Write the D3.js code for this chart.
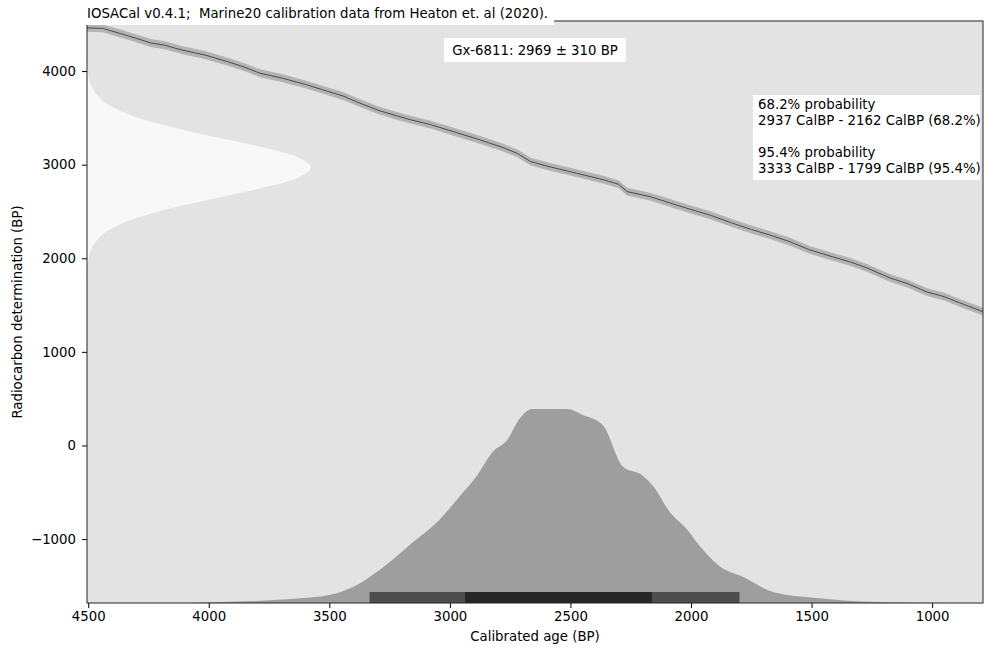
<!DOCTYPE html>
<html>
<head>
<meta charset="utf-8">
<script src="https://cdn.jsdelivr.net/npm/d3@7"></script>
<style>
  body { margin: 0; background: #fff; }
  svg { display: block; font-family: 'DejaVu Sans', sans-serif; }
</style>
</head>
<body>
<script>
const titleText = 'IOSACal v0.4.1;  Marine20 calibration data from Heaton et. al (2020).'
const sampleLabel = 'Gx-6811: 2969 ± 310 BP'
const intervalText = [
  '68.2% probability',
  '2937 CalBP - 2162 CalBP (68.2%)',
  '',
  '95.4% probability',
  '3333 CalBP - 1799 CalBP (95.4%)',
]

const xTicks = [4500, 4000, 3500, 3000, 2500, 2000, 1500, 1000]
const yTicks = [-1000, 0, 1000, 2000, 3000, 4000]

// Marine20 curve: cal BP -> 14C BP
const curveCal = [4505, 4440, 4415, 4360, 4301, 4240, 4187, 4111, 4060, 4016, 3921, 3850, 3788,
  3693, 3600, 3502, 3440, 3388, 3293, 3220, 3160, 3080, 3008, 2874, 2779, 2720, 2665, 2589, 2475,
  2361, 2300, 2265, 2170, 2090, 2018, 1920, 1828, 1750, 1675, 1590, 1508, 1412, 1340, 1271, 1176,
  1100, 1023, 950, 886, 789]
const curve14C = [4462, 4456, 4438, 4396, 4350, 4300, 4279, 4225, 4196, 4172, 4100, 4040, 3977,
  3923, 3858, 3780, 3731, 3673, 3577, 3522, 3478, 3428, 3371, 3264, 3182, 3120, 3033, 2979, 2909,
  2837, 2790, 2712, 2659, 2593, 2535, 2460, 2375, 2308, 2250, 2177, 2090, 2015, 1961, 1898, 1791,
  1727, 1641, 1590, 1524, 1430]
const curveError = 42

// radiocarbon determination (relative density)
const dateBP = [1769, 1869, 1969, 2069, 2169, 2269, 2369, 2469, 2569, 2669, 2769, 2869, 2969,
  3069, 3169, 3269, 3369, 3469, 3569, 3669, 3769, 3869, 3969, 4069, 4169]
const dateDensity = [0.0006, 0.0018, 0.0055, 0.0148, 0.036, 0.078, 0.154, 0.272, 0.435, 0.626, 0.812,
  0.949, 1, 0.949, 0.812, 0.626, 0.435, 0.272, 0.154, 0.078, 0.036, 0.0148, 0.0055, 0.0018, 0.0006]

// calibrated age probability (relative density)
const calAge = [4086, 3953, 3804, 3692, 3621, 3497, 3402, 3290, 3153, 3041, 2958, 2888, 2821, 2763,
  2709, 2680, 2655, 2514, 2448, 2366, 2283, 2200, 2158, 2088, 2017, 1963, 1880, 1785, 1660, 1478, 1221, 942]
const calDensity = [0, 0.005, 0.01, 0.018, 0.024, 0.042, 0.083, 0.172, 0.313, 0.432, 0.552, 0.656,
  0.781, 0.839, 0.953, 0.99, 1, 1, 0.969, 0.917, 0.703, 0.656, 0.604, 0.469, 0.38, 0.292, 0.188, 0.135,
  0.057, 0.026, 0.005, 0]

// highest density ranges
const rangeLabels = ['95.4%', '68.2%']
const rangeFrom = [3333, 2937]
const rangeTo = [1799, 2162]

;(function () {
  const width = 985
  const height = 649
  const left = 87
  const right = 983
  const top = 21
  const bottom = 603
  const fontSize = 13.3

  const svg = d3.select('body').append('svg')
    .attr('width', width)
    .attr('height', height)

  const x = d3.scaleLinear().domain([4505, 789]).range([left, right])
  const y = d3.scaleLinear().domain([-1683, 4535]).range([bottom, top])
  // twin axes used by the density plots
  const xDens = d3.scaleLinear().domain([0, 4]).range([left, right])
  const yDens = d3.scaleLinear().domain([0, 3]).range([bottom, top])

  svg.append('clipPath').attr('id', 'plot-clip')
    .append('rect')
    .attr('x', left).attr('y', top)
    .attr('width', right - left).attr('height', bottom - top)

  svg.append('rect')
    .attr('x', left).attr('y', top)
    .attr('width', right - left).attr('height', bottom - top)
    .attr('fill', '#e3e3e3')

  const plot = svg.append('g').attr('clip-path', 'url(#plot-clip)')

  // radiocarbon date on the y axis
  const dateData = dateBP.map((bp, i) => ({ bp, d: dateDensity[i] }))
  plot.append('path')
    .datum(dateData)
    .attr('fill', '#f8f8f8')
    .attr('d', d3.area()
      .y((p) => y(p.bp))
      .x0(xDens(0))
      .x1((p) => xDens(p.d))
      .curve(d3.curveCatmullRom))

  // calibrated probability
  const calData = calAge.map((age, i) => ({ age, d: calDensity[i] }))
  plot.append('path')
    .datum(calData)
    .attr('fill', '#9e9e9e')
    .attr('d', d3.area()
      .x((p) => x(p.age))
      .y0(yDens(0))
      .y1((p) => yDens(p.d))
      .curve(d3.curveMonotoneX))

  // ranges bars along the bottom
  const barHeight = 11
  plot.selectAll('rect.range')
    .data(rangeLabels)
    .enter()
    .append('rect')
    .attr('class', 'range')
    .attr('x', (d, i) => x(rangeFrom[i]))
    .attr('width', (d, i) => x(rangeTo[i]) - x(rangeFrom[i]))
    .attr('y', bottom - barHeight)
    .attr('height', barHeight)
    .attr('fill', (d, i) => (i === 0 ? '#4d4d4d' : '#262626'))

  // calibration curve
  const curveData = curveCal.map((cal, i) => ({ cal, c14: curve14C[i] }))
  plot.append('path')
    .datum(curveData)
    .attr('fill', '#b3b3b3')
    .attr('d', d3.area()
      .x((p) => x(p.cal))
      .y0((p) => y(p.c14 - curveError))
      .y1((p) => y(p.c14 + curveError)))
  plot.append('path')
    .datum(curveData)
    .attr('fill', 'none')
    .attr('stroke', '#4a4a4a')
    .attr('stroke-width', 1)
    .attr('d', d3.line().x((p) => x(p.cal)).y((p) => y(p.c14)))

  // axes
  const xAxis = svg.append('g')
    .attr('transform', `translate(0,${bottom})`)
    .call(d3.axisBottom(x).tickValues(xTicks).tickFormat(d3.format('d')).tickSize(5).tickPadding(4))
  const yAxis = svg.append('g')
    .attr('transform', `translate(${left},0)`)
    .call(d3.axisLeft(y).tickValues(yTicks).tickFormat((d) => (d < 0 ? '\u2212' + Math.abs(d) : d)).tickSize(5).tickPadding(6))
  ;[xAxis, yAxis].forEach((ax) => {
    ax.select('.domain').remove()
    ax.selectAll('text').attr('font-size', fontSize).attr('fill', '#000').attr('font-family', 'DejaVu Sans')
    ax.selectAll('line').attr('stroke', '#000')
  })

  svg.append('rect')
    .attr('x', left).attr('y', top)
    .attr('width', right - left).attr('height', bottom - top)
    .attr('fill', 'none')
    .attr('stroke', '#222')
    .attr('stroke-width', 1)

  svg.append('text')
    .attr('x', (left + right) / 2)
    .attr('y', 641)
    .attr('text-anchor', 'middle')
    .attr('font-size', fontSize)
    .text('Calibrated age (BP)')

  svg.append('text')
    .attr('transform', `translate(22,${(top + bottom) / 2}) rotate(-90)`)
    .attr('text-anchor', 'middle')
    .attr('font-size', fontSize)
    .text('Radiocarbon determination (BP)')

  // title with its white box over the top spine
  const titleBg = svg.append('rect').attr('fill', '#fff')
  const title = svg.append('text')
    .attr('x', left)
    .attr('y', 18)
    .attr('font-size', fontSize)
    .style('white-space', 'pre')
    .text(titleText)
  const tb = title.node().getBBox()
  titleBg.attr('x', left - 1).attr('y', 0).attr('width', tb.width + 7).attr('height', 25)

  // sample label
  const labelBg = svg.append('rect').attr('fill', '#fff')
  const label = svg.append('text')
    .attr('x', (left + right) / 2)
    .attr('y', 55)
    .attr('text-anchor', 'middle')
    .attr('font-size', fontSize)
    .text(sampleLabel)
  const lb = label.node().getBBox()
  labelBg.attr('x', lb.x - 8).attr('y', 38).attr('width', lb.width + 16).attr('height', 24)

  // interval text box
  const infoBg = svg.append('rect').attr('fill', '#fff')
  const info = svg.append('text')
    .attr('x', 758)
    .attr('font-size', fontSize)
  info.selectAll('tspan')
    .data(intervalText)
    .enter()
    .append('tspan')
    .attr('x', 758)
    .attr('y', (d, i) => 108.5 + i * 16)
    .text((d) => d || ' ')
  const ib = info.node().getBBox()
  infoBg.attr('x', 753).attr('y', 95).attr('width', Math.min(ib.width + 10, right - 3 - 753)).attr('height', 85)
})()
</script>
</body>
</html>
